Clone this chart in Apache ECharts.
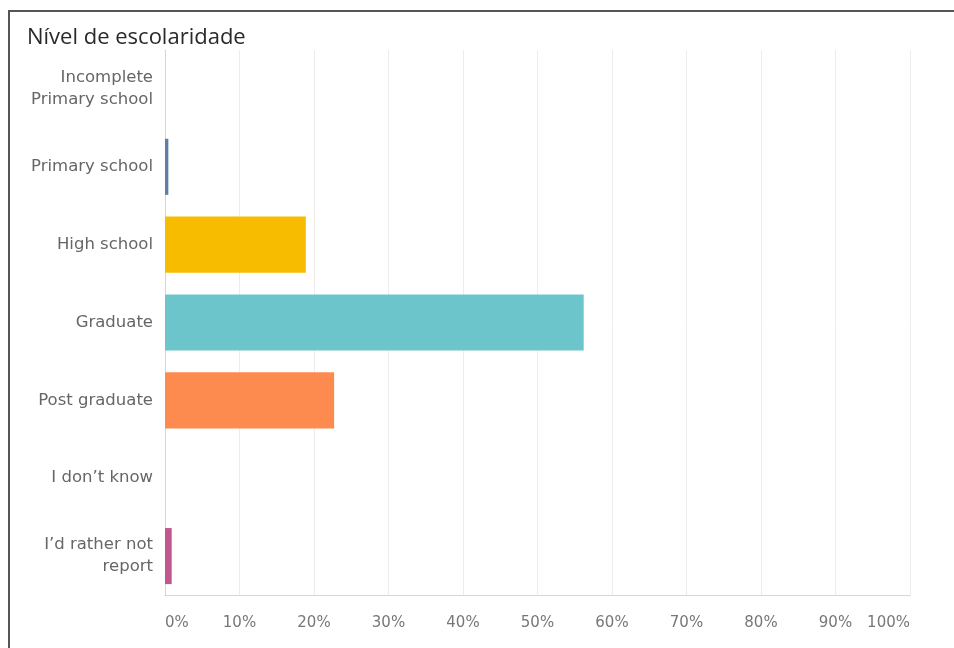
<!DOCTYPE html>
<html>
<head>
<meta charset="UTF-8">
<title>Nível de escolaridade</title>
<script src="https://cdn.jsdelivr.net/npm/echarts@6/dist/echarts.min.js"></script>
<style>
  html, body { margin: 0; padding: 0; background: #fff; overflow: hidden; }
  #frame { position: absolute; left: 8px; top: 10px; width: 2000px; height: 2000px;
           border-left: 2px solid #555; border-top: 2px solid #555; pointer-events: none; }
</style>
</head>
<body>
<div id="main" style="width: 954px;height:648px;"></div>
<div id="frame"></div>
<script type="text/javascript">
// categories (top to bottom) and answer shares in %
var categories = ['Incomplete\nPrimary school', 'Primary school', 'High school', 'Graduate',
                  'Post graduate', 'I don\u2019t know', 'I\u2019d rather not\nreport'];
var shares = [0, 0.45, 18.9, 56.2, 22.7, 0, 0.9];
var barColors = ['#5b7fa6', '#5b7fa6', '#f7bc00', '#6cc5cb', '#fd8b4f', '#9f7bb5', '#c2578f'];
var tickValues = [0, 10, 20, 30, 40, 50, 60, 70, 80, 90, 100];

var myChart = echarts.init(document.getElementById('main'));

var option = {
    animation: false,
    textStyle: { fontFamily: 'DejaVu Sans' },
    title: {
        text: 'Nível de escolaridade',
        left: 22,
        top: 22,
        textStyle: { fontSize: 22, fontWeight: 'normal', color: '#2a2a2a', fontFamily: 'Open Sans' }
    },
    grid: { left: 165, right: 44, top: 50, bottom: 53 },
    xAxis: {
        type: 'value',
        min: 0,
        max: 100,
        interval: 10,
        axisLine: { show: true, lineStyle: { color: '#d6d6d6' } },
        axisTick: { show: false },
        splitLine: { show: true, lineStyle: { color: '#ececec' } },
        axisLabel: {
            color: '#777',
            fontSize: 15,
            margin: 21,
            alignMinLabel: 'left',
            alignMaxLabel: 'right',
            formatter: function (v) {
                return tickValues.indexOf(v) >= 0 ? v + '%' : '';
            }
        }
    },
    yAxis: {
        type: 'category',
        inverse: true,
        data: categories,
        axisLine: { show: true, lineStyle: { color: '#d6d6d6' } },
        axisTick: { show: false },
        axisLabel: { color: '#666', fontSize: 16.5, lineHeight: 22, margin: 12 }
    },
    series: [{
        type: 'bar',
        barCategoryGap: '28%',
        data: shares.map(function (v, i) {
            return { value: v, itemStyle: { color: barColors[i] } };
        })
    }]
};
myChart.setOption(option);
</script>
</body>
</html>
